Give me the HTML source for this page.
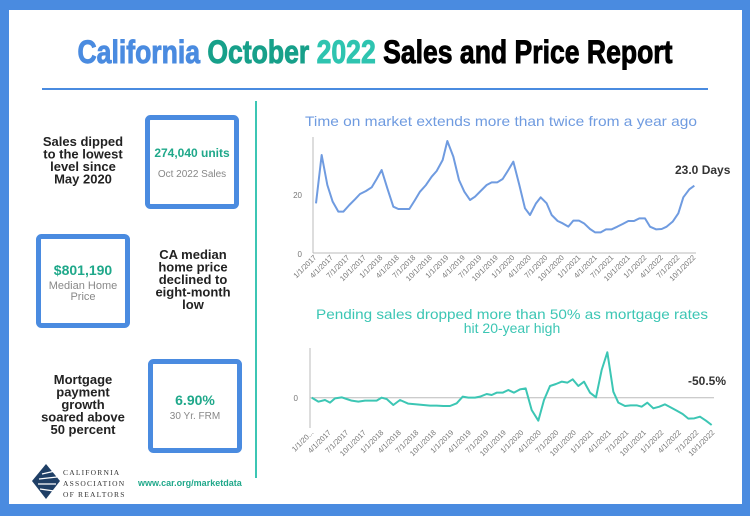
<!DOCTYPE html>
<html><head><meta charset="utf-8"><style>
html,body{margin:0;padding:0;background:#fff;}
svg{display:block;font-family:"Liberation Sans",sans-serif;}
</style></head><body>
<svg width="750" height="516" viewBox="0 0 750 516" xmlns="http://www.w3.org/2000/svg">
<rect x="0" y="0" width="750" height="516" fill="#4a8be0"/>
<rect x="9" y="10" width="733" height="494" fill="#fff"/>
<text x="375" y="63" font-size="32" font-weight="bold" text-anchor="middle" textLength="595" lengthAdjust="spacingAndGlyphs" stroke-width="0.9"><tspan fill="#4a8be0" stroke="#4a8be0">California </tspan><tspan fill="#17a08a" stroke="#17a08a">October </tspan><tspan fill="#2ec4b0" stroke="#2ec4b0">2022 </tspan><tspan fill="#000" stroke="#000">Sales and Price Report</tspan></text>
<rect x="42" y="88" width="666" height="2" fill="#4a8be0"/>
<rect x="255" y="101" width="2" height="377" fill="#3cc6b4"/>

<g font-weight="bold" font-size="13" fill="#222" text-anchor="middle">
<text x="83" y="146">Sales dipped</text><text x="83" y="158.5">to the lowest</text><text x="83" y="171">level since</text><text x="83" y="183.5">May 2020</text>
<text x="193" y="259">CA median</text><text x="193" y="271.5">home price</text><text x="193" y="284">declined to</text><text x="193" y="296.5">eight-month</text><text x="193" y="309">low</text>
<text x="83" y="384">Mortgage</text><text x="83" y="396.5">payment</text><text x="83" y="409">growth</text><text x="83" y="421.5">soared above</text><text x="83" y="434">50 percent</text>
</g>
<g fill="none" stroke="#4a8be0" stroke-width="5">
<rect x="147.5" y="117.5" width="89" height="89" rx="3"/>
<rect x="38.5" y="236.5" width="89" height="89" rx="3"/>
<rect x="150.5" y="361.5" width="89" height="89" rx="3"/>
</g>
<g text-anchor="middle">
<text x="192" y="157" font-size="12" font-weight="bold" fill="#1fa88a">274,040 units</text>
<text x="192" y="177" font-size="10" fill="#888">Oct 2022 Sales</text>
<text x="83" y="275" font-size="14" font-weight="bold" fill="#1fa88a">$801,190</text>
<text x="83" y="289" font-size="11" fill="#888">Median Home</text>
<text x="83" y="300" font-size="11" fill="#888">Price</text>
<text x="195" y="405" font-size="14" font-weight="bold" fill="#1fa88a">6.90%</text>
<text x="195" y="419" font-size="10" fill="#888">30 Yr. FRM</text>
</g>
<!-- logo -->
<polygon points="46,464 60,481 46,499 32,481" fill="#1f3f66"/>
<g stroke="#fff" stroke-width="1.2">
<line x1="42" y1="474" x2="55" y2="471"/><line x1="39" y1="479" x2="57" y2="477"/><line x1="38" y1="484" x2="56" y2="484"/><line x1="40" y1="489" x2="54" y2="491"/>
</g>
<g font-family="Liberation Serif,serif" font-size="7.5" fill="#333" letter-spacing="1.2">
<text x="63" y="475">CALIFORNIA</text><text x="63" y="486">ASSOCIATION</text><text x="63" y="497">OF REALTORS</text>
</g>
<text x="138" y="486" font-size="9" font-weight="bold" fill="#1fa88a">www.car.org/marketdata</text>

<!-- chart 1 -->
<text x="501" y="126" font-size="14" fill="#6f9be0" text-anchor="middle" textLength="392" lengthAdjust="spacingAndGlyphs">Time on market extends more than twice from a year ago</text>
<line x1="313" y1="137" x2="313" y2="253" stroke="#bbb" stroke-width="1"/>
<line x1="313" y1="253" x2="696" y2="253" stroke="#bbb" stroke-width="1"/>
<text x="302" y="198" font-size="8" fill="#777" text-anchor="end">20</text>
<text x="302" y="257" font-size="8" fill="#777" text-anchor="end">0</text>
<g transform="translate(280,110) scale(0.33333)">
<polyline fill="none" stroke="#6f9be0" stroke-width="6" stroke-linejoin="round" points="108,280 125,135 142,225 158,275 175,305 190,305 208,285 225,268 240,252 258,243 275,232 290,207 305,180 322,235 340,290 355,297 372,297 388,297 405,270 420,245 438,225 455,200 470,183 488,150 502,93 520,140 537,210 553,245 570,270 585,260 605,240 620,225 635,217 652,217 668,207 685,180 700,155 718,225 735,295 750,315 768,280 782,262 800,280 815,315 833,333 848,340 865,350 880,332 897,332 912,340 930,357 945,367 962,367 978,358 995,358 1012,350 1028,342 1045,333 1062,333 1078,325 1095,325 1110,350 1128,358 1145,357 1160,350 1178,335 1195,310 1210,262 1228,238 1243,227"/>
</g>
<text x="675" y="174" font-size="12" font-weight="bold" fill="#333">23.0 Days</text>
<g font-size="7.5" fill="#777" text-anchor="end">
<text transform="translate(317,258) rotate(-45)">1/1/2017</text>
<text transform="translate(333.5,258) rotate(-45)">4/1/2017</text>
<text transform="translate(350,258) rotate(-45)">7/1/2017</text>
<text transform="translate(366.5,258) rotate(-45)">10/1/2017</text>
<text transform="translate(383,258) rotate(-45)">1/1/2018</text>
<text transform="translate(399.5,258) rotate(-45)">4/1/2018</text>
<text transform="translate(416,258) rotate(-45)">7/1/2018</text>
<text transform="translate(432.5,258) rotate(-45)">10/1/2018</text>
<text transform="translate(449,258) rotate(-45)">1/1/2019</text>
<text transform="translate(465.5,258) rotate(-45)">4/1/2019</text>
<text transform="translate(482,258) rotate(-45)">7/1/2019</text>
<text transform="translate(498.5,258) rotate(-45)">10/1/2019</text>
<text transform="translate(515,258) rotate(-45)">1/1/2020</text>
<text transform="translate(531.5,258) rotate(-45)">4/1/2020</text>
<text transform="translate(548,258) rotate(-45)">7/1/2020</text>
<text transform="translate(564.5,258) rotate(-45)">10/1/2020</text>
<text transform="translate(581,258) rotate(-45)">1/1/2021</text>
<text transform="translate(597.5,258) rotate(-45)">4/1/2021</text>
<text transform="translate(614,258) rotate(-45)">7/1/2021</text>
<text transform="translate(630.5,258) rotate(-45)">10/1/2021</text>
<text transform="translate(647,258) rotate(-45)">1/1/2022</text>
<text transform="translate(663.5,258) rotate(-45)">4/1/2022</text>
<text transform="translate(680,258) rotate(-45)">7/1/2022</text>
<text transform="translate(696,258) rotate(-45)">10/1/2022</text>
</g>

<!-- chart 2 -->
<g font-size="14" fill="#3cc6b4" text-anchor="middle">
<text x="512" y="319" textLength="392" lengthAdjust="spacingAndGlyphs">Pending sales dropped more than 50% as mortgage rates</text>
<text x="512" y="333">hit 20-year high</text>
</g>
<line x1="310" y1="348" x2="310" y2="428" stroke="#bbb" stroke-width="1"/>
<line x1="310" y1="397.7" x2="714" y2="397.7" stroke="#bbb" stroke-width="1"/>
<text x="298" y="401" font-size="8" fill="#777" text-anchor="end">0</text>
<g transform="translate(280,300) scale(0.33333)">
<polyline fill="none" stroke="#3cc6b4" stroke-width="6" stroke-linejoin="round" points="95,293 115,305 135,300 150,308 165,295 185,292 200,297 215,302 235,305 255,302 270,302 290,302 305,293 320,297 340,315 360,300 385,311 410,313 430,315 450,317 470,317 490,318 510,318 530,310 548,290 565,293 585,293 600,290 620,282 635,285 650,278 668,278 685,270 702,278 720,268 737,265 755,330 775,362 792,300 810,258 828,252 845,245 862,248 878,238 895,258 912,245 930,278 948,292 965,210 982,157 1000,275 1015,308 1035,318 1052,316 1070,316 1085,320 1102,308 1120,325 1138,320 1155,313 1172,322 1190,332 1208,342 1225,356 1243,355 1260,350 1278,362 1295,375"/>
</g>
<text x="688" y="385" font-size="12" font-weight="bold" fill="#333">-50.5%</text>
<g font-size="7.5" fill="#777" text-anchor="end">
<text transform="translate(314,433) rotate(-45)">1/1/20...</text>
<text transform="translate(331.5,433) rotate(-45)">4/1/2017</text>
<text transform="translate(349,433) rotate(-45)">7/1/2017</text>
<text transform="translate(366.5,433) rotate(-45)">10/1/2017</text>
<text transform="translate(384,433) rotate(-45)">1/1/2018</text>
<text transform="translate(401.5,433) rotate(-45)">4/1/2018</text>
<text transform="translate(419,433) rotate(-45)">7/1/2018</text>
<text transform="translate(436.5,433) rotate(-45)">10/1/2018</text>
<text transform="translate(454,433) rotate(-45)">1/1/2019</text>
<text transform="translate(471.5,433) rotate(-45)">4/1/2019</text>
<text transform="translate(489,433) rotate(-45)">7/1/2019</text>
<text transform="translate(506.5,433) rotate(-45)">10/1/2019</text>
<text transform="translate(524,433) rotate(-45)">1/1/2020</text>
<text transform="translate(541.5,433) rotate(-45)">4/1/2020</text>
<text transform="translate(559,433) rotate(-45)">7/1/2020</text>
<text transform="translate(576.5,433) rotate(-45)">10/1/2020</text>
<text transform="translate(594,433) rotate(-45)">1/1/2021</text>
<text transform="translate(611.5,433) rotate(-45)">4/1/2021</text>
<text transform="translate(629,433) rotate(-45)">7/1/2021</text>
<text transform="translate(646.5,433) rotate(-45)">10/1/2021</text>
<text transform="translate(664,433) rotate(-45)">1/1/2022</text>
<text transform="translate(681.5,433) rotate(-45)">4/1/2022</text>
<text transform="translate(699,433) rotate(-45)">7/1/2022</text>
<text transform="translate(715,433) rotate(-45)">10/1/2022</text>
</g>
</svg>
</body></html>
